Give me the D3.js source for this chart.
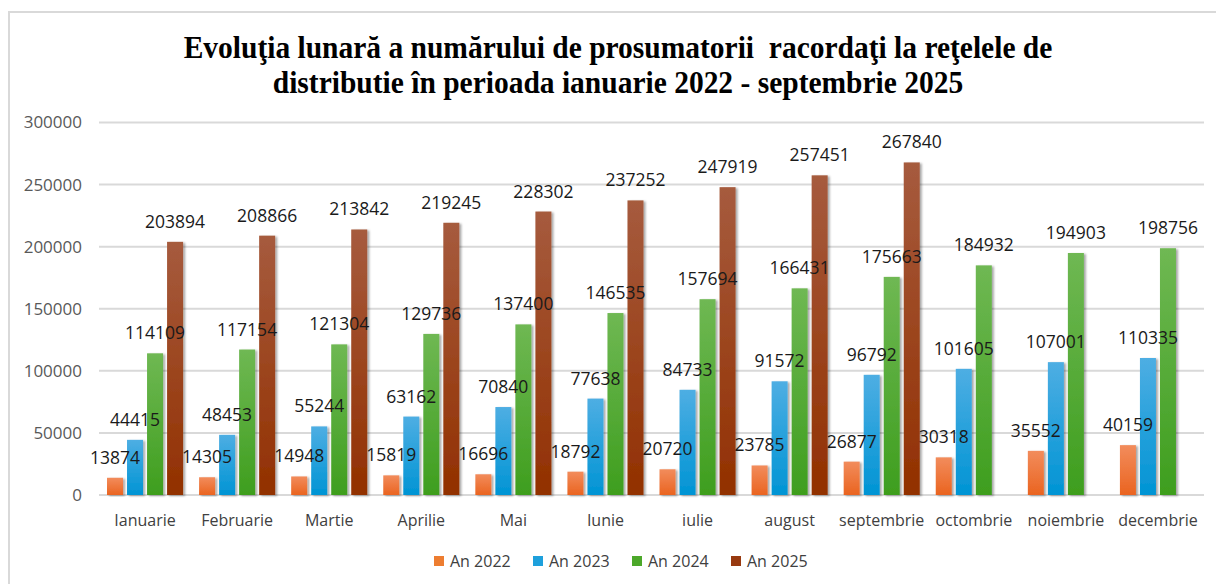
<!DOCTYPE html>
<html><head><meta charset="utf-8">
<script src="https://cdn.jsdelivr.net/npm/d3@7"></script>
<style>
html,body{margin:0;padding:0;background:#fff;}
svg{display:block;}
</style></head><body>
<svg id="chart" width="1216" height="584"></svg>
<script>
const months = ["Ianuarie","Februarie","Martie","Aprilie","Mai","Iunie","iulie","august","septembrie","octombrie","noiembrie","decembrie"];
const seriesNames = ["An 2022","An 2023","An 2024","An 2025"];
const v2022 = [13874,14305,14948,15819,16696,18792,20720,23785,26877,30318,35552,40159];
const v2023 = [44415,48453,55244,63162,70840,77638,84733,91572,96792,101605,107001,110335];
const v2024 = [114109,117154,121304,129736,137400,146535,157694,166431,175663,184932,194903,198756];
const v2025 = [203894,208866,213842,219245,228302,237252,247919,257451,267840,null,null,null];
const yTicks = [0,50000,100000,150000,200000,250000,300000];
const titleLines = ["Evoluţia lunară a numărului de prosumatorii  racordaţi la reţelele de","distributie în perioada ianuarie 2022 - septembrie 2025"];
const colorsTop = ["#f28c5c","#4eaee3","#6fb853","#a65b3e"];
const colorsBot = ["#ea6420","#0094d4","#3e9e1e","#923000"];
const legendColors = ["#ed7d31","#1ea0dc","#4ca82a","#983a10"];

const allSeries = [v2022,v2023,v2024,v2025];
const svg = d3.select("#chart");
const defs = svg.append("defs");
colorsTop.forEach((c,i)=>{
  const g = defs.append("linearGradient").attr("id","g"+i).attr("x1",0).attr("y1",0).attr("x2",0).attr("y2",1);
  g.append("stop").attr("offset","0%").attr("stop-color",c);
  g.append("stop").attr("offset","100%").attr("stop-color",colorsBot[i]);
});
const f = defs.append("filter").attr("id","sh").attr("x","-30%").attr("y","-10%").attr("width","160%").attr("height","120%");
f.append("feDropShadow").attr("dx",2).attr("dy",1).attr("stdDeviation",1.2).attr("flood-color","#000").attr("flood-opacity",0.35);

// border
svg.append("rect").attr("x",9).attr("y",12).attr("width",1230).attr("height",600)
  .attr("fill","none").attr("stroke","#d9d9d9").attr("stroke-width",2);

// title
const tg = svg.append("g").attr("transform","translate(618,0)");
titleLines.forEach((t,i)=>{
  tg.append("text").attr("transform",`translate(0,${58+i*35}) scale(1,1.08)`)
    .attr("text-anchor","middle").attr("font-family","'Liberation Serif','Times New Roman',serif")
    .attr("font-weight","bold").attr("font-size",29.5).attr("fill","#000")
    .attr("xml:space","preserve").style("white-space","pre").text(t);
});

const left = 99, right = 1204, y0px = 495, ytop = 122.5;
const x0 = d3.scaleBand().domain(months).range([left,right]).paddingInner(0).paddingOuter(0);
const y = d3.scaleLinear().domain([0,300000]).range([y0px,ytop]);
const bw = x0.bandwidth()/5.75;
const step = bw*1.25;
const x1 = i => (x0.bandwidth() - (3*step+bw))/2 + i*step;

// gridlines
svg.append("g").selectAll("line").data(yTicks).join("line")
  .attr("x1",left).attr("x2",right).attr("y1",d=>y(d)).attr("y2",d=>y(d))
  .attr("stroke","#d9d9d9").attr("stroke-width",2);

// y axis labels
const yAxis = d3.axisLeft(y).tickValues(yTicks).tickSize(0).tickPadding(0).tickFormat(d=>String(d));
const ya = svg.append("g").attr("transform","translate(82,0)").call(yAxis);
ya.select(".domain").remove();
ya.selectAll("text").attr("font-family","'Open Sans',sans-serif").attr("font-size",17).attr("fill","#595959");

// x axis labels
const xAxis = d3.axisBottom(x0).tickSize(0).tickPadding(0);
const xa = svg.append("g").attr("transform",`translate(0,${y0px})`).call(xAxis);
xa.select(".domain").remove();
xa.selectAll("text").attr("dy",0).attr("y",31).attr("font-family","'Open Sans',sans-serif").attr("font-size",16).attr("fill","#404040");

// bars
const groups = svg.append("g").selectAll("g").data(months).join("g")
  .attr("transform",d=>`translate(${x0(d)},0)`);
allSeries.forEach((s,si)=>{
  groups.each(function(m,mi){
    const v = s[mi];
    if(v==null) return;
    d3.select(this).append("rect")
      .attr("x",x1(si)).attr("width",bw)
      .attr("y",y(v)).attr("height",y0px-y(v))
      .attr("fill",`url(#g${si})`).attr("filter","url(#sh)");
  });
});
// labels
allSeries.forEach((s,si)=>{
  groups.each(function(m,mi){
    const v = s[mi];
    if(v==null) return;
    d3.select(this).append("text")
      .attr("x",x1(si)+bw/2).attr("y",y(v)-14)
      .attr("text-anchor","middle").attr("font-family","'Open Sans',sans-serif")
      .attr("font-size",17.5).attr("fill","#1a1a1a").text(v);
  });
});

// legend
const lg = svg.append("g").selectAll("g").data(seriesNames).join("g")
  .attr("transform",(d,i)=>`translate(${434+i*99},562)`);
lg.append("rect").attr("x",0).attr("y",-6).attr("width",10).attr("height",10).attr("fill",(d,i)=>legendColors[i]);
lg.append("text").attr("x",16).attr("y",5).attr("font-family","'Open Sans',sans-serif").attr("font-size",16).attr("fill","#404040").text(d=>d);
</script>
</body></html>
